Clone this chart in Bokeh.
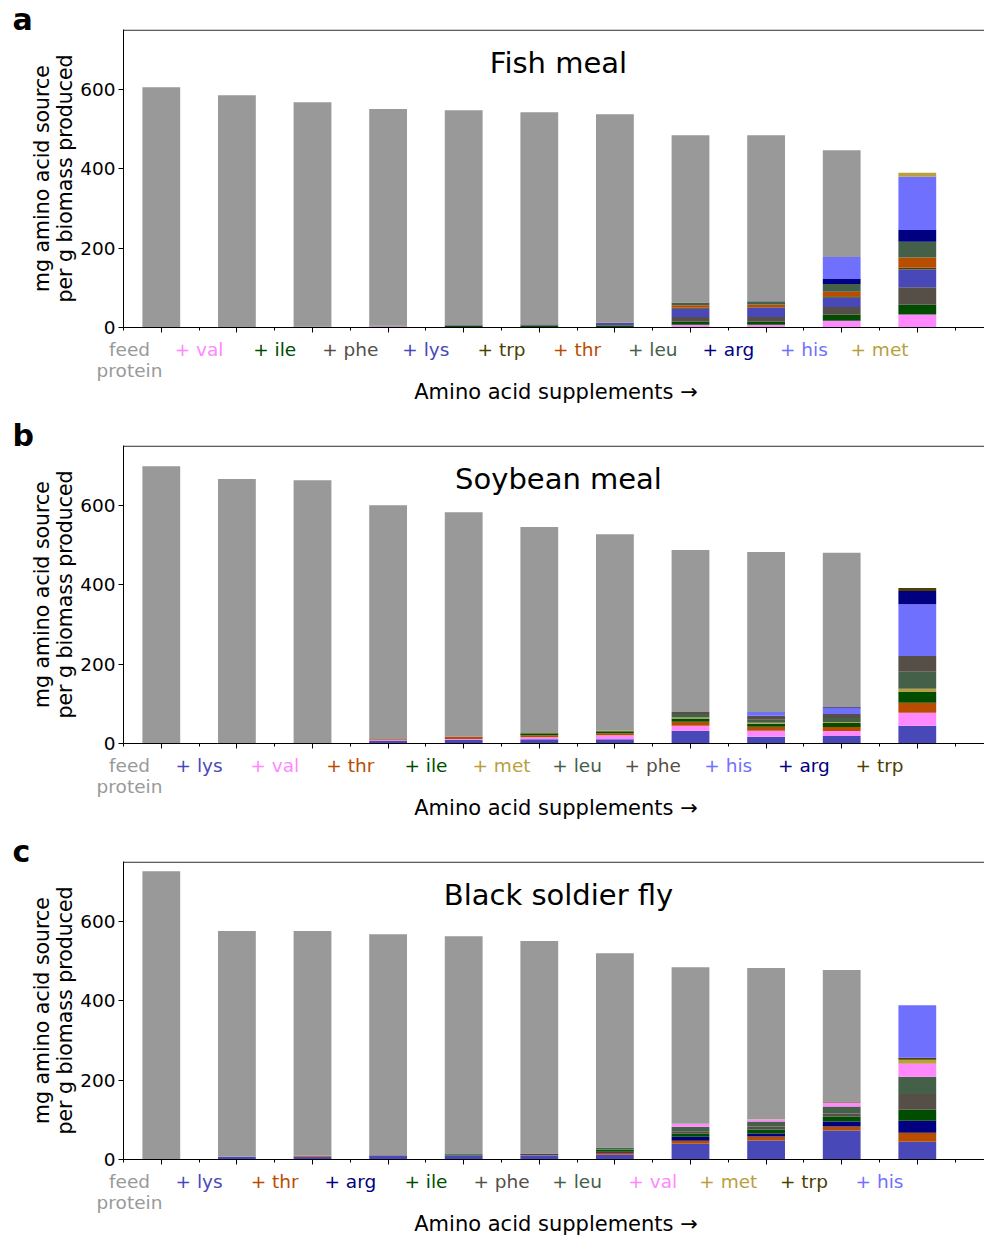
from bokeh.plotting import figure
from bokeh.models import (Range1d, FixedTicker, Label, ColumnDataSource, Span, Title,
                          CustomLabelingPolicy)
from bokeh.embed import file_html
from bokeh.resources import INLINE

# ---------------- data ----------------
colors = {
    "feed": "#999999", "val": "#ff88ff", "ile": "#004d00", "phe": "#554f47",
    "lys": "#4848b8", "trp": "#4d4000", "thr": "#b84d00", "leu": "#446048",
    "arg": "#000080", "his": "#7070ff", "met": "#b89f40",
}

# Fish meal
fish_order = ["val", "ile", "phe", "lys", "trp", "thr", "leu", "arg", "his", "met"]
fish_total = [606, 586, 568, 551, 548, 543, 538, 485, 485, 447, 390]
fish_val = [0, 1, 1, 3, 1.5, 1.5, 1.5, 7, 7, 17, 32.5]
fish_ile = [0, 0, 1, 1, 3, 3, 3, 7.5, 7.5, 15, 25]
fish_phe = [0, 0, 0, 0.5, 1, 2.5, 2, 12, 12, 20, 44]
fish_lys = [0, 0, 0, 0, 0.5, 1, 5, 21, 23.5, 23, 45]
fish_trp = [0, 0, 0, 0, 0, 0.3, 0.5, 2.5, 1, 4, 5]
fish_thr = [0, 0, 0, 0, 0, 0, 0.5, 6, 7, 11, 25]
fish_leu = [0, 0, 0, 0, 0, 0, 0, 7, 7.5, 20, 39.5]
fish_arg = [0, 0, 0, 0, 0, 0, 0, 0, 1, 12.6, 30]
fish_his = [0, 0, 0, 0, 0, 0, 0, 0, 0, 55.5, 134]
fish_met = [0, 0, 0, 0, 0, 0, 0, 0, 0, 0, 10]

# Soybean meal
soy_order = ["lys", "val", "thr", "ile", "met", "leu", "phe", "his", "arg", "trp"]
soy_total = [699, 667, 664, 601, 583, 546, 528, 488, 483, 481, 392]
soy_lys = [0, 1, 1, 6, 8.7, 11, 11, 32, 17, 19, 44.5]
soy_val = [0, 0, 0.5, 2.5, 2.6, 5, 10, 12.6, 15, 12.6, 33]
soy_thr = [0, 0, 0, 2.5, 5, 5, 5, 10, 10, 10, 25]
soy_ile = [0, 0, 0, 0, 0.5, 5, 5, 8.4, 7.6, 10, 27.7]
soy_met = [0, 0, 0, 0, 0, 0.5, 1.5, 2.5, 2.5, 2.5, 7.6]
soy_leu = [0, 0, 0, 0, 0, 0, 1, 9.2, 7.6, 10, 43]
soy_phe = [0, 0, 0, 0, 0, 0, 0, 5, 10, 10, 40]
soy_his = [0, 0, 0, 0, 0, 0, 0, 0, 10, 15, 130.6]
soy_arg = [0, 0, 0, 0, 0, 0, 0, 0, 0, 2.5, 33]
soy_trp = [0, 0, 0, 0, 0, 0, 0, 0, 0, 0, 7.6]

# Black soldier fly
bsf_order = ["lys", "thr", "arg", "ile", "phe", "leu", "val", "met", "trp", "his"]
bsf_total = [727, 576, 576, 568, 563, 551, 520, 485, 483, 478, 389]
bsf_lys = [0, 7, 7, 9.6, 9.6, 10, 12, 40, 48, 73, 45]
bsf_thr = [0, 0, 2.6, 0.5, 0.5, 1.5, 5, 7.6, 10, 10, 22.7]
bsf_arg = [0, 0, 0, 0.5, 0.5, 2, 2.6, 10, 7.6, 12.6, 30]
bsf_ile = [0, 0, 0, 0, 2.6, 1, 5, 7.6, 10, 12.6, 27.7]
bsf_phe = [0, 0, 0, 0, 0, 0.5, 0.5, 5, 7.6, 7.6, 40]
bsf_leu = [0, 0, 0, 0, 0, 0, 5, 12.6, 12.6, 17.7, 43]
bsf_val = [0, 0, 0, 0, 0, 0, 0, 7.6, 5, 10, 33]
bsf_met = [0, 0, 0, 0, 0, 0, 0, 0, 0.5, 0.5, 10]
bsf_trp = [0, 0, 0, 0, 0, 0, 0, 0, 0, 2.5, 5]
bsf_his = [0, 0, 0, 0, 0, 0, 0, 0, 0, 0, 132.6]

y_ticks = [0, 200, 400, 600]
feed_label = ["feed", "protein"]
x_title = "Amino acid supplements \u2192"
y_title = "mg amino acid source\nper g biomass produced"

panels = [
    ("a", "Fish meal", fish_order, fish_total,
     {"val": fish_val, "ile": fish_ile, "phe": fish_phe, "lys": fish_lys, "trp": fish_trp,
      "thr": fish_thr, "leu": fish_leu, "arg": fish_arg, "his": fish_his, "met": fish_met}),
    ("b", "Soybean meal", soy_order, soy_total,
     {"lys": soy_lys, "val": soy_val, "thr": soy_thr, "ile": soy_ile, "met": soy_met,
      "leu": soy_leu, "phe": soy_phe, "his": soy_his, "arg": soy_arg, "trp": soy_trp}),
    ("c", "Black soldier fly", bsf_order, bsf_total,
     {"lys": bsf_lys, "thr": bsf_thr, "arg": bsf_arg, "ile": bsf_ile, "phe": bsf_phe,
      "leu": bsf_leu, "val": bsf_val, "met": bsf_met, "trp": bsf_trp, "his": bsf_his}),
]

# ---------------- layout constants ----------------
FONT = "DejaVu Sans"
W = 984
LEFT = 123          # frame left edge (px)
PPU = 75.6          # px per bar slot
X0 = -0.5
X1 = X0 + (W - LEFT) / PPU
FRAME_H = 298
Y_END = FRAME_H / 0.3965
MAIN_BOTTOM = 11
STRIP_H = 71
LAST_STRIP_H = 66
TOP_BORDERS = [29, 36, 36]


def px_to_x(px):
    return X0 + (px - LEFT) / PPU


def strip(h):
    s = figure(width=W, height=h, x_range=Range1d(px_to_x(0), px_to_x(W)), y_range=Range1d(h, 0),
               output_backend="svg", toolbar_location=None, min_border=0,
               min_border_left=0, min_border_right=0, min_border_top=0, min_border_bottom=0,
               x_axis_location=None, y_axis_location=None)
    s.outline_line_color = None
    s.grid.visible = False
    s.background_fill_color = "white"
    s.border_fill_color = "white"
    return s


def add_xlabels(s, order):
    s.add_layout(Label(x=px_to_x(129), y=10.5, text=feed_label[0], text_align="center",
                       text_baseline="middle", text_font=FONT, text_font_size="18.5px",
                       text_color=colors["feed"]))
    s.add_layout(Label(x=px_to_x(129), y=31.5, text=feed_label[1], text_align="center",
                       text_baseline="middle", text_font=FONT, text_font_size="18.5px",
                       text_color=colors["feed"]))
    for i, aa in enumerate(order):
        s.add_layout(Label(x=i + 0.5, y=10.5, text="+ " + aa, text_align="center",
                           text_baseline="middle", text_font=FONT, text_font_size="18.5px",
                           text_color=colors[aa]))
    s.add_layout(Label(x=px_to_x(555.5), y=53, text=x_title, text_align="center",
                       text_baseline="middle", text_font=FONT, text_font_size="21px",
                       text_color="black"))


def make_main(letter, title, order, total, segs, btop):
    p = figure(width=W, height=btop + FRAME_H + MAIN_BOTTOM, x_range=Range1d(X0, X1),
               y_range=Range1d(0, Y_END), output_backend="svg", toolbar_location=None,
               min_border_left=LEFT, min_border_right=0, min_border_top=btop,
               min_border_bottom=MAIN_BOTTOM)
    p.title = Title(text=letter, align="left", offset=12 - LEFT, standoff=-14,
                    text_font=FONT, text_font_size="30px", text_font_style="bold",
                    text_color="black")
    p.xgrid.visible = False
    p.ygrid.visible = False
    p.outline_line_color = None
    p.background_fill_color = "white"
    p.border_fill_color = "white"

    xs = list(range(len(total)))
    data = {"x": xs}
    for aa in order:
        data[aa] = segs[aa]
    data["rest"] = [max(t - sum(segs[aa][i] for aa in order), 0) for i, t in enumerate(total)]
    src = ColumnDataSource(data)
    p.vbar_stack(order + ["rest"], x="x", width=0.5, source=src,
                 fill_color=[colors[a] for a in order] + [colors["feed"]], line_color=None)

    # top spine
    p.add_layout(Span(location=750, dimension="width", line_color="black", line_width=1))

    xa = p.xaxis[0]
    xa.ticker = FixedTicker(ticks=xs, minor_ticks=[i - 0.5 for i in range(0, 12)])
    xa.major_label_text_font_size = "1px"
    xa.major_label_standoff = 0
    xa.major_label_policy = CustomLabelingPolicy(
        code="for (const i of Array.from(indices)) { indices.unset(i) }\nreturn indices")
    xa.major_tick_out = 5
    xa.major_tick_in = 0
    xa.minor_tick_out = 3
    xa.minor_tick_in = 0
    xa.axis_line_color = "black"
    xa.major_tick_line_color = "black"
    xa.minor_tick_line_color = "black"

    ya = p.yaxis[0]
    ya.ticker = FixedTicker(ticks=y_ticks)
    ya.major_label_text_font = FONT
    ya.major_label_text_font_size = "18.5px"
    ya.major_label_text_color = "black"
    ya.major_tick_out = 5
    ya.major_tick_in = 0
    ya.minor_tick_out = 0
    ya.minor_tick_in = 0
    ya.major_label_standoff = 3
    ya.axis_line_color = "black"
    ya.axis_label = y_title
    ya.axis_label_text_font = FONT
    ya.axis_label_text_font_size = "20.5px"
    ya.axis_label_text_font_style = "normal"
    ya.axis_label_text_color = "black"
    ya.axis_label_text_line_height = 0.96
    ya.axis_label_standoff = 0

    p.add_layout(Label(x=px_to_x(558), y=667, text=title, text_align="center", text_baseline="middle",
                       text_font=FONT, text_font_size="29px", text_color="black"))
    return p


items = []
for k, (letter, title, order, total, segs) in enumerate(panels):
    items.append(make_main(letter, title, order, total, segs, TOP_BORDERS[k]))
    last = k == len(panels) - 1
    s = strip(LAST_STRIP_H if last else STRIP_H)
    add_xlabels(s, order)
    items.append(s)

open("out.html", "w").write(file_html(items, INLINE))
